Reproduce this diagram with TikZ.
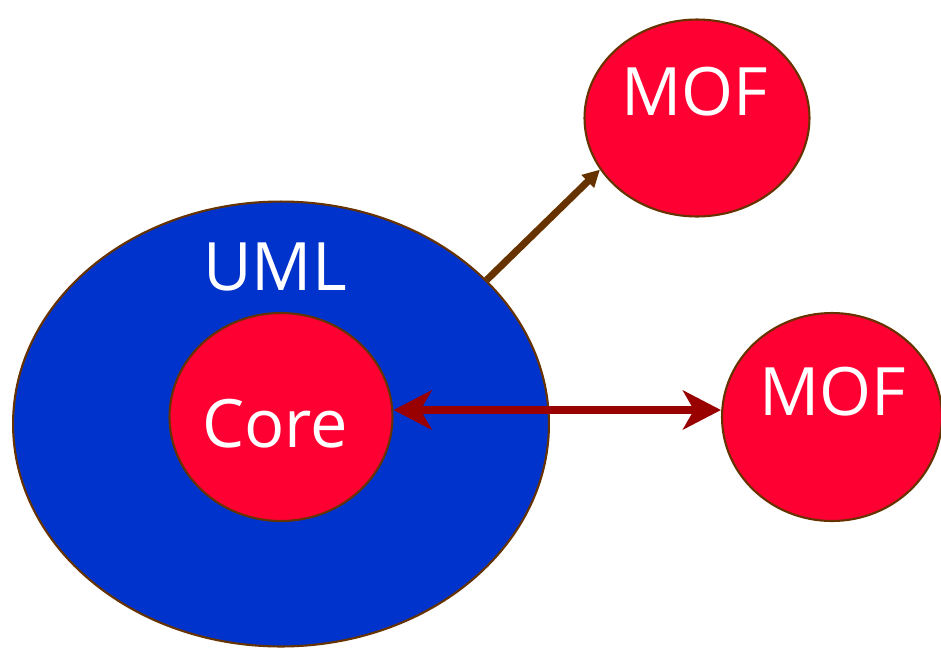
\documentclass[tikz,border=0pt]{standalone}
\usepackage{fontspec}
\setmainfont{Open Sans}
\usetikzlibrary{shapes.geometric,arrows.meta}
\definecolor{umlblue}{HTML}{0033CC}
\definecolor{mofred}{HTML}{FF0033}
\definecolor{edgebrown}{HTML}{663300}
\definecolor{linkred}{HTML}{990000}

\begin{document}
\begin{tikzpicture}[x=0.02cm, y=-0.02cm]
    \tikzstyle{blob}=[ellipse, draw=edgebrown, line width=1.2pt, inner sep=0pt]
    \tikzstyle{word}=[text=white, inner sep=0pt, font=\fontsize{38}{40}\selectfont]

    \useasboundingbox (0,0) rectangle (941,647);

    % the ellipses
    \node[blob, fill=umlblue, minimum width=10.72cm, minimum height=8.9cm] (uml) at (281,424) {};
    \node[blob, fill=mofred, minimum width=4.46cm, minimum height=4.16cm] (core) at (281,417) {};
    \node[blob, fill=mofred, minimum width=4.5cm, minimum height=3.94cm] (mofa) at (697,118) {};
    \node[blob, fill=mofred, minimum width=4.4cm, minimum height=4.16cm] (mofb) at (832,417) {};

    % their names
    \node[word] (umltext) at (275,267) {UML};
    \node[word] (coretext) at (275,424) {Core};
    \node[word] (mofatext) at (695,92) {MOF};
    \node[word] (mofbtext) at (833,392) {MOF};

    % the links
    \draw[edgebrown, line width=4pt, -{Triangle[length=0.34cm, width=0.34cm]}] (uml.35.6) -- (mofa.208.7);
    \draw[linkred, line width=4.5pt, {Stealth[length=0.76cm, width=0.78cm, inset=0.22cm]}-{Stealth[length=0.76cm, width=0.78cm, inset=0.22cm]}]
        ([yshift=0.14cm]core.east) -- ([yshift=0.14cm]mofb.west);
\end{tikzpicture}
\end{document}
